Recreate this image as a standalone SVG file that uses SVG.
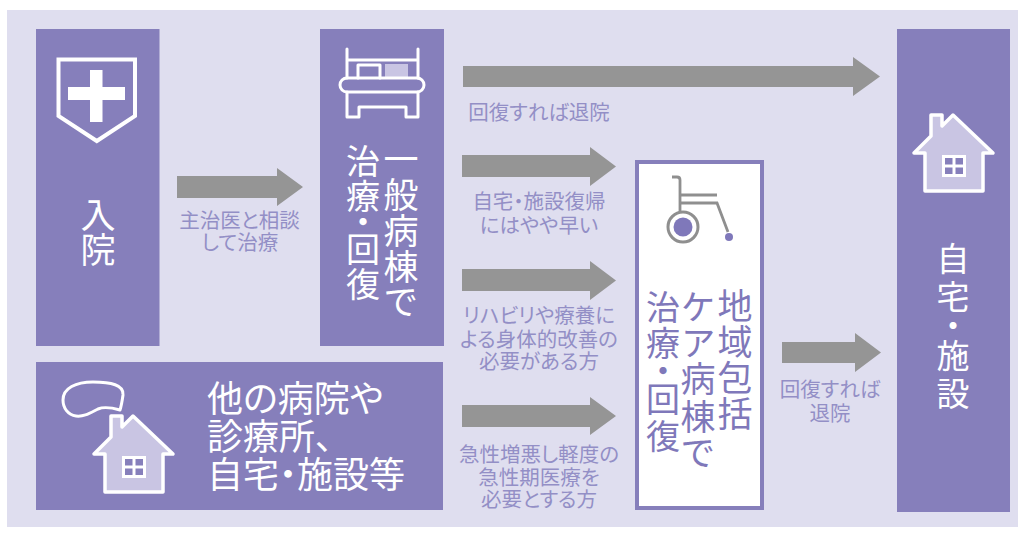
<svg xmlns="http://www.w3.org/2000/svg" width="1025" height="537" viewBox="0 0 1025 537">
<style>
text{font-family:"Noto Sans CJK JP","Noto Sans CJK SC",sans-serif;font-weight:400}
.box{fill:#867fbb}
.arrow{fill:#959595}
.lbl{font-size:20.5px;fill:#938fc6;text-anchor:middle;font-feature-settings:"palt"}
.v{writing-mode:vertical-rl;fill:#fff;font-size:34px;font-feature-settings:"vpal"}
.vp{writing-mode:vertical-rl;fill:#7f78ba;font-size:35px;font-feature-settings:"vpal"}
.t{fill:#fff;font-size:36px;font-feature-settings:"palt"}
.line{fill:none;stroke:#fff;stroke-width:3;stroke-linejoin:round;stroke-linecap:round}
.house{fill:#c9c5e3;stroke:#fff;stroke-width:3.5;stroke-linejoin:round}
</style>
<defs>
<g id="house-icon">
<path class="house" d="M953 115 L993 153 L983 153 L983 191 L925 191 L925 153 L914 153 L931 136 L931 115 L942 115 L942 126 Z"/>
<rect x="942" y="155" width="24" height="22" fill="#fff"/>
<path d="M945 158h7.500v6.500h-7.500zM955.500 158h7.500v6.500h-7.500zM945 167.500h7.500v6.500h-7.500zM955.500 167.500h7.500v6.500h-7.500z" fill="#867fbb"/>
</g>
</defs>
<rect width="1025" height="537" fill="#fff"/>
<rect id="panel" x="7" y="10" width="1011" height="517" fill="#dfdeef"/>
<g id="connectors">
<path class="arrow" d="M177 176H277V168L303 187L277 206V198H177Z"/>
<path class="arrow" d="M463 66H853V57L880 76.500L853 96V87H463Z"/>
<path class="arrow" d="M462 155H590V147L616 166.500L590 186V177H462Z"/>
<path class="arrow" d="M462 269H590V261L616 280.500L590 300V291H462Z"/>
<path class="arrow" d="M462 405H590V397L616 416L590 435V427H462Z"/>
<path class="arrow" d="M782 342H855V333L881 352.500L855 372V363H782Z"/>
</g>
<g id="node-admission">
<rect class="box" x="36" y="29" width="123.500" height="317"/>
<path d="M58.500 59.500H135V116L96.800 141L58.500 116Z" fill="none" stroke="#fff" stroke-width="4"/>
<path d="M90 70H102.500V87H125V100H102.500V122H90V100H68V87H90Z" fill="#fff"/>
<text class="v" x="98" y="197" style="font-size:35px">入院</text>
</g>
<g id="node-general">
<rect class="box" x="320" y="29" width="124" height="317"/>
<path class="line" d="M347 49V78M418 49V78M347 60H418M358 78V65H380V78M347 92V117H359V107H406V117H418V92"/>
<rect x="385" y="64" width="23" height="14" fill="#c9c5e3"/>
<rect class="line" x="340" y="78" width="84" height="14" rx="7"/>
<text class="v" x="401" y="141.500" style="font-size:35px;letter-spacing:1px">一般病棟で</text>
<text class="v" x="363" y="144" style="letter-spacing:1px">治療・回復</text>
</g>
<g id="node-other">
<rect class="box" x="36" y="362" width="407" height="148"/>
<path class="line" d="M63 400C63 388 76 382 93 382C111 382 124 385 123 395C122 402 121 407 120 410C113 408 105 406 98 409C90 413 84 417 76 416C68 415 63 408 63 400Z"/>
<use href="#house-icon" x="-820" y="301"/>
<text class="t" x="207" y="412">他の病院や</text>
<text class="t" x="207" y="450">診療所、</text>
<text class="t" x="207" y="488">自宅・施設等</text>
</g>
<g id="node-community">
<rect x="637" y="162" width="125" height="346" fill="#fff" stroke="#867fbb" stroke-width="4"/>
<path d="M672 177H677Q680 177 680 180V213M680 195H717M680 203H717L728 232" fill="none" stroke="#8f8f8f" stroke-width="2.800"/>
<circle cx="683" cy="227" r="15" fill="#fff" stroke="#8f8f8f" stroke-width="3"/>
<circle cx="683" cy="227" r="9.500" fill="#7f78ba"/>
<circle cx="729" cy="237" r="4" fill="#7f78ba"/>
<text class="vp" x="735" y="288.500" style="letter-spacing:1px">地域包括</text>
<text class="vp" x="698" y="290" style="letter-spacing:2.700px">ケア病棟で</text>
<text class="vp" x="663" y="290" style="font-size:34px;letter-spacing:2.500px">治療・回復</text>
</g>
<g id="node-home">
<rect class="box" x="897" y="29" width="113" height="483"/>
<use href="#house-icon"/>
<text class="v" x="953" y="241.500" style="font-size:33px;letter-spacing:5px">自宅・施設</text>
</g>
<g id="labels">
<text class="lbl" x="239.500" y="228">主治医と相談</text>
<text class="lbl" x="240" y="250">して治療</text>
<text class="lbl" x="539" y="120">回復すれば退院</text>
<text class="lbl" x="539" y="209">自宅・施設復帰</text>
<text class="lbl" x="539" y="233">にはやや早い</text>
<text class="lbl" x="539" y="323">リハビリや療養に</text>
<text class="lbl" x="539" y="347">よる身体的改善の</text>
<text class="lbl" x="539" y="369">必要がある方</text>
<text class="lbl" x="539" y="462">急性増悪し軽度の</text>
<text class="lbl" x="539" y="485">急性期医療を</text>
<text class="lbl" x="539" y="507">必要とする方</text>
<text class="lbl" x="830" y="397">回復すれば</text>
<text class="lbl" x="830" y="421">退院</text>
</g>
</svg>
